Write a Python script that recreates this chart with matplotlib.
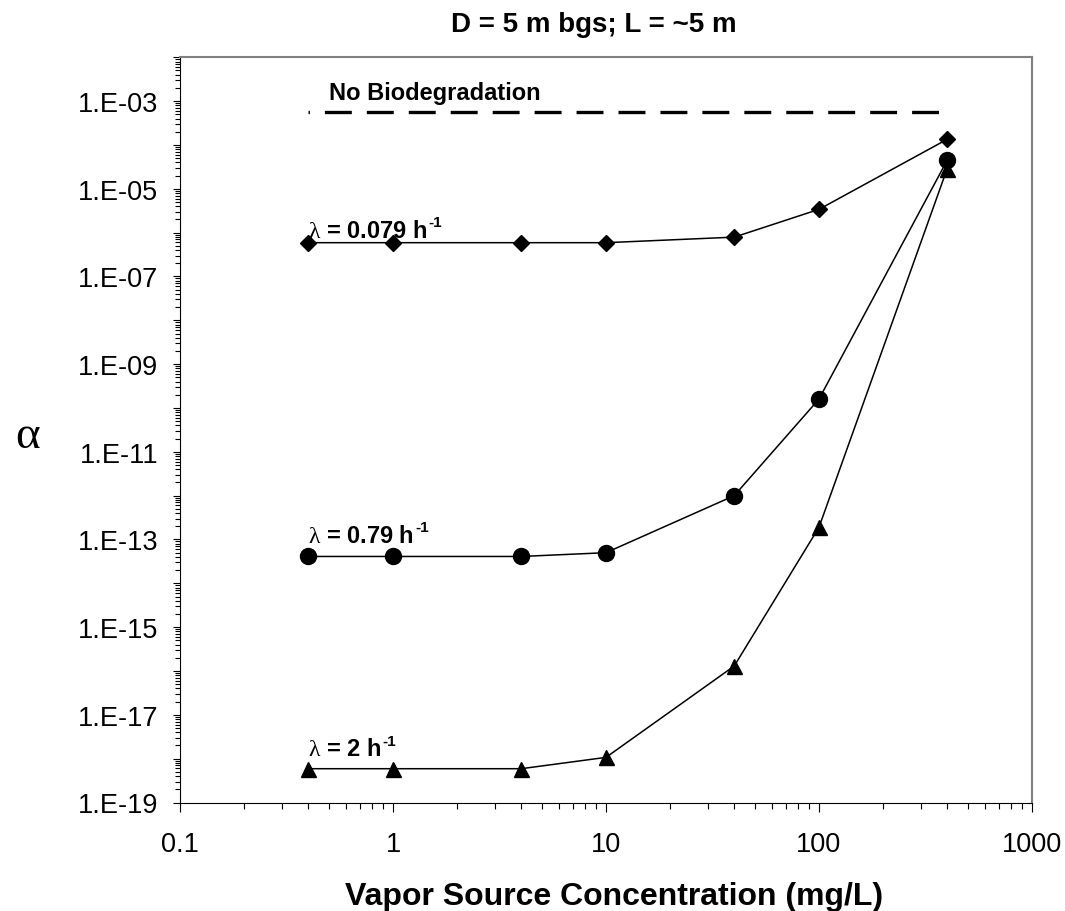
import matplotlib
matplotlib.use("Agg")
import matplotlib.pyplot as plt
from matplotlib.ticker import LogLocator, FuncFormatter, NullFormatter
import numpy as np

plt.rcParams['font.family'] = ['Liberation Sans', 'DejaVu Sans']
plt.rcParams['mathtext.fontset'] = 'custom'
plt.rcParams['mathtext.rm'] = 'Liberation Serif'
plt.rcParams['lines.scale_dashes'] = False

# data
conc = [0.4, 1, 4, 10, 40, 100, 400]
alpha_0079 = [5.9e-7, 5.9e-7, 5.9e-7, 5.9e-7, 7.9e-7, 3.4e-6, 1.35e-4]
alpha_079 = [4.1e-14, 4.1e-14, 4.1e-14, 5.0e-14, 1.0e-12, 1.6e-10, 4.5e-5]
alpha_2 = [5.9e-19, 5.9e-19, 5.9e-19, 1.07e-18, 1.3e-16, 1.9e-13, 2.9e-5]
no_bio_x = [0.4, 400]
no_bio_y = [5.7e-4, 5.7e-4]

labels = [r'$\mathrm{\lambda}$ = 0.079 h',
          r'$\mathrm{\lambda}$ = 0.79 h',
          r'$\mathrm{\lambda}$ = 2 h']
label_y = [8.1e-7, 8.9e-14, 1.2e-18]

fig = plt.figure(figsize=(10.65, 9.12), dpi=100)
ax = fig.add_axes([180 / 1065, 1 - 803.5 / 912, 852 / 1065, 745.2 / 912])

ax.plot(conc, alpha_0079, color='black', lw=1.1, marker='D', ms=8)
ax.plot(conc, alpha_079, color='black', lw=1.1, marker='o', ms=11.5)
ax.plot(conc, alpha_2, color='black', lw=1.1, marker='^', ms=10.8)
ax.plot(no_bio_x, no_bio_y, color='black', lw=2.4,
        linestyle=(18.4, (19.4, 10.8)), solid_capstyle='butt', dash_capstyle='butt')

ax.text(0.5, 1.1e-3, 'No Biodegradation', fontsize=17, fontweight='bold', va='baseline')
for txt, yy in zip(labels, label_y):
    t = ax.text(0.4, yy, txt, fontsize=17, fontweight='bold', va='baseline')
    ax.annotate('-1', xy=(1, 0.55), xycoords=t, xytext=(1, 0), textcoords='offset points',
                fontsize=11, fontweight='bold', va='bottom', ha='left')

ax.set_xscale('log')
ax.set_yscale('log')
ax.set_xlim(0.1, 1000)
ax.set_ylim(1e-19, 1e-2)

ax.xaxis.set_major_locator(LogLocator(base=10, numticks=10))
ax.xaxis.set_minor_locator(LogLocator(base=10, subs=np.arange(2, 10), numticks=10))
ax.xaxis.set_major_formatter(FuncFormatter(lambda v, p: f'{v:g}'))
ax.xaxis.set_minor_formatter(NullFormatter())

ax.yaxis.set_major_locator(LogLocator(base=10, numticks=30))
ax.yaxis.set_minor_locator(LogLocator(base=10, subs=np.arange(2, 10), numticks=30))


def yfmt(v, p):
    e = int(round(np.log10(v)))
    if e % 2 == 0:
        return ''
    return f'1.E{e:03d}'


ax.yaxis.set_major_formatter(FuncFormatter(yfmt))
ax.yaxis.set_minor_formatter(NullFormatter())

ax.tick_params(axis='x', which='major', length=6.3, width=0.8, pad=14, labelsize=19.5)
ax.tick_params(axis='x', which='minor', length=4.3, width=0.8)
ax.tick_params(axis='y', which='major', length=5, width=0.8, pad=10.8, labelsize=19.5)
ax.tick_params(axis='y', which='minor', length=3.5, width=0.8)

for s in ['left', 'bottom']:
    ax.spines[s].set_color('black')
    ax.spines[s].set_linewidth(0.8)
for s in ['top', 'right']:
    ax.spines[s].set_color('#808080')
    ax.spines[s].set_linewidth(1.5)

fig.text(594 / 1065, 1 - 32.3 / 912, 'D = 5 m bgs; L = ~5 m', fontsize=20,
         fontweight='bold', ha='center', va='baseline')
fig.text(614 / 1065, 1 - 905 / 912, 'Vapor Source Concentration (mg/L)', fontsize=23,
         fontweight='bold', ha='center', va='baseline')
fig.text(27.5 / 1065, 1 - 437 / 912, 'α', fontsize=34, family='Liberation Serif',
         ha='center', va='center')

fig.savefig('out.png', dpi=100)
